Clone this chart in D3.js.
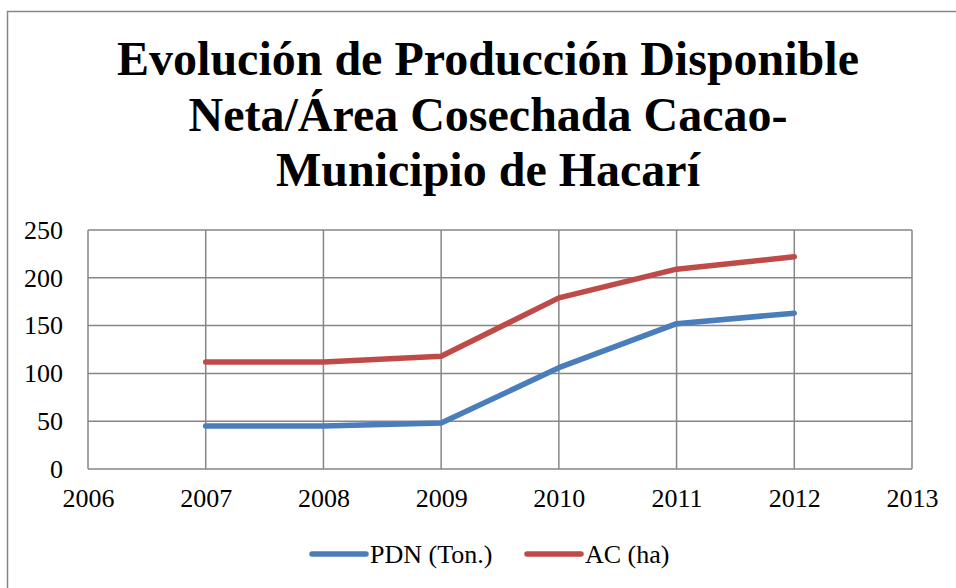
<!DOCTYPE html>
<html>
<head>
<meta charset="utf-8">
<script src="https://cdn.jsdelivr.net/npm/d3@7"></script>
</head>
<body style="margin:0; background:#fff">
<div id="chart"></div>
<script>
const years = [2007, 2008, 2009, 2010, 2011, 2012]
const pdn = [45, 45, 48, 106, 152, 163]
const ac = [112, 112, 118, 179, 209, 222]
const xTicks = [2006, 2007, 2008, 2009, 2010, 2011, 2012, 2013]
const yTicks = [0, 50, 100, 150, 200, 250]
const titleLines = ['Evolución de Producción Disponible', 'Neta/Área Cosechada Cacao-', 'Municipio de Hacarí']
const seriesNames = ['PDN (Ton.)', 'AC (ha)']

const width = 956
const height = 588
const plot = { left: 88, right: 912, top: 230, bottom: 469 }
const serif = 'Liberation Serif'

const svg = d3.select('#chart')
  .append('svg')
  .attr('width', width)
  .attr('height', height)
  .style('display', 'block')

// marco del gráfico
svg.append('path')
  .attr('d', `M7.5,${height} V11.5 H${width}`)
  .attr('fill', 'none')
  .attr('stroke', '#868686')
  .attr('stroke-width', 1.5)

// título
svg.append('g')
  .selectAll('text')
  .data(titleLines)
  .enter()
  .append('text')
  .attr('x', 488)
  .attr('y', (d, i) => 75 + i * 55.5)
  .attr('text-anchor', 'middle')
  .style('font-family', serif)
  .attr('font-size', 48)
  .attr('font-weight', 'bold')
  .attr('fill', '#000')
  .text(d => d)

const x = d3.scaleLinear().domain([2006, 2013]).range([plot.left, plot.right])
const y = d3.scaleLinear().domain([0, 250]).range([plot.bottom, plot.top])

// rejilla
const grid = svg.append('g')
  .attr('stroke', '#868686')
  .attr('stroke-width', 1.5)

grid.selectAll('line.h')
  .data(yTicks)
  .enter()
  .append('line')
  .attr('x1', plot.left)
  .attr('x2', plot.right)
  .attr('y1', d => y(d))
  .attr('y2', d => y(d))

grid.selectAll('line.v')
  .data(xTicks)
  .enter()
  .append('line')
  .attr('y1', plot.top)
  .attr('y2', plot.bottom)
  .attr('x1', d => x(d))
  .attr('x2', d => x(d))

// ejes
const yAxis = svg.append('g')
  .attr('transform', `translate(${plot.left},0)`)
  .call(d3.axisLeft(y).tickValues(yTicks).tickSize(0).tickPadding(25))
yAxis.select('.domain').remove()
yAxis.selectAll('text')
  .style('font-family', serif)
  .attr('font-size', 26)
  .attr('fill', '#000')

const xAxis = svg.append('g')
  .attr('transform', `translate(0,${plot.bottom})`)
  .call(d3.axisBottom(x).tickValues(xTicks).tickFormat(d3.format('d')).tickSize(0).tickPadding(20))
xAxis.select('.domain').remove()
xAxis.selectAll('text')
  .style('font-family', serif)
  .attr('font-size', 26)
  .attr('fill', '#000')

// series
const series = [
  { name: seriesNames[0], values: pdn, color: '#4A7EBB' },
  { name: seriesNames[1], values: ac, color: '#BE4B48' }
]

const line = d3.line()
  .x((d, i) => x(years[i]))
  .y(d => y(d))

svg.append('g')
  .selectAll('path')
  .data(series)
  .enter()
  .append('path')
  .attr('d', d => line(d.values))
  .attr('fill', 'none')
  .attr('stroke', d => d.color)
  .attr('stroke-width', 5.5)
  .attr('stroke-linecap', 'round')
  .attr('stroke-linejoin', 'round')

// leyenda
const legendX = [312, 527]
const legend = svg.append('g')
  .selectAll('g')
  .data(series)
  .enter()
  .append('g')
  .attr('transform', (d, i) => `translate(${legendX[i]},554)`)

legend.append('line')
  .attr('x1', 0)
  .attr('x2', 54)
  .attr('stroke', d => d.color)
  .attr('stroke-width', 5.5)
  .attr('stroke-linecap', 'round')

legend.append('text')
  .attr('x', 58)
  .attr('y', 9)
  .style('font-family', serif)
  .attr('font-size', 26)
  .attr('fill', '#000')
  .text(d => d.name)
</script>
</body>
</html>
